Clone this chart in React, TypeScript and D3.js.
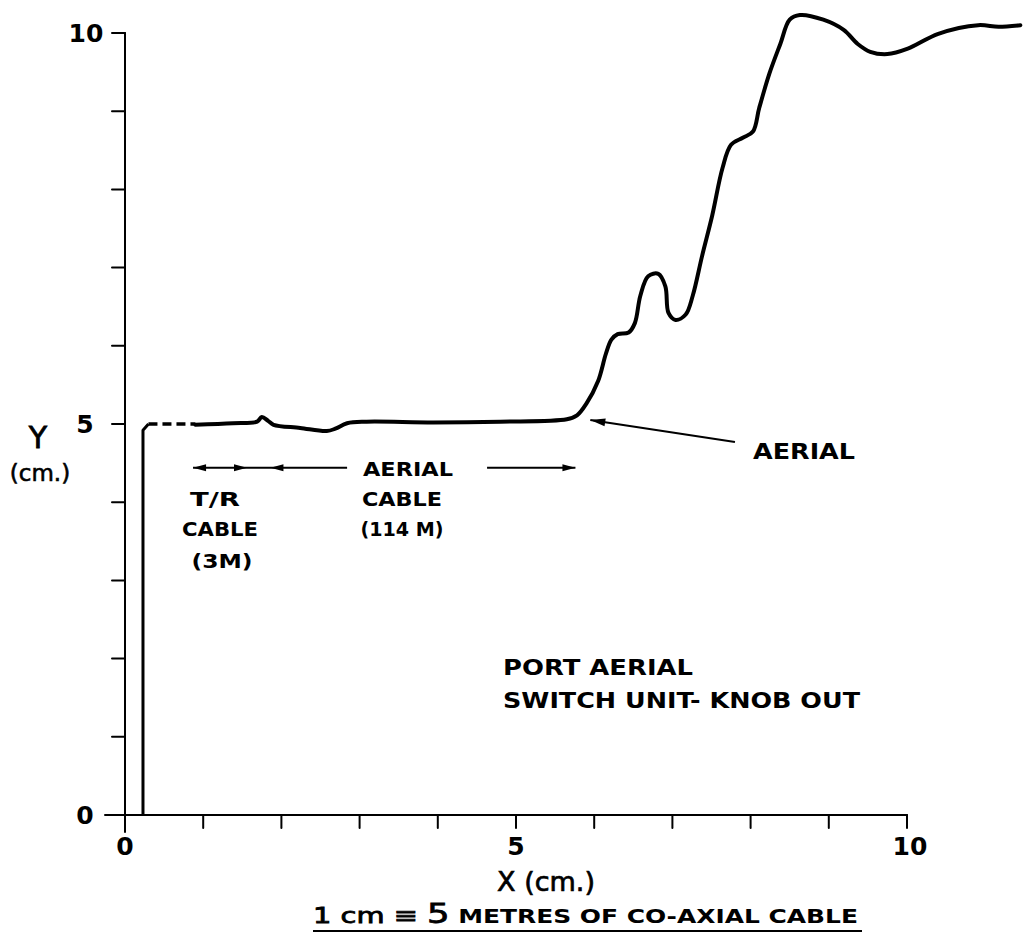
import React from 'react';
import * as d3 from 'd3';

// axis ticks (cm)
const xTicks = [0, 1, 2, 3, 4, 5, 6, 7, 8, 9, 10];
const yTicks = [0, 1, 2, 3, 4, 5, 6, 7, 8, 9, 10];
const xTickLabels = ['0', '5', '10'];
const yTickLabels = ['0', '5', '10'];

// vertical step at the start of the trace
const stepX = [0.23, 0.23, 0.3];
const stepY = [0, 4.92, 5.0];

// dashed lead-in
const leadX = [0.3, 0.9];
const leadY = [5.0, 5.0];

// the reflection trace
const traceX = [
  0.9, 1.38, 1.69, 1.75, 1.83, 1.9, 2.24, 2.58, 2.69, 2.84, 3.09, 3.94, 4.8, 5.65, 5.78,
  5.9, 6.05, 6.15, 6.22, 6.3, 6.44, 6.52, 6.59, 6.69, 6.82, 6.91, 6.95, 7.04, 7.17, 7.26,
  7.38, 7.51, 7.64, 7.75, 7.9, 8.03, 8.11, 8.24, 8.38, 8.5, 8.63, 8.93, 9.19, 9.37, 9.53,
  9.75, 10.01, 10.4, 10.91, 11.17, 11.45,
];
const traceY = [
  4.99, 5.01, 5.03, 5.09, 5.04, 4.99, 4.95, 4.91, 4.94, 5.01, 5.03, 5.02, 5.03, 5.06, 5.11,
  5.26, 5.55, 5.9, 6.08, 6.15, 6.17, 6.29, 6.64, 6.89, 6.92, 6.76, 6.42, 6.33, 6.4, 6.64,
  7.15, 7.67, 8.27, 8.57, 8.66, 8.74, 9.04, 9.48, 9.86, 10.17, 10.23, 10.17, 10.04, 9.86, 9.76,
  9.73, 9.8, 9.99, 10.1, 10.08, 10.1,
];

// cable-length arrows (cm)
const cableArrowY = 4.44;
const trArrowX = [0.87, 1.56];
const aerialCableArrowX = [1.86, 2.84];
const aerialCableArrowX2 = [4.63, 5.76];

// pointer to the aerial
const pointerX = [7.8, 5.95];
const pointerY = [4.77, 5.05];

const FONT = '"DejaVu Sans", sans-serif';

const W = 1035;
const H = 946;

function head(px: number, py: number, angle: number, len = 13, half = 3.5) {
  const c = Math.cos(angle), s = Math.sin(angle);
  const bx = px - c * len, by = py - s * len;
  return `M${px},${py}L${bx - s * half},${by + c * half}L${bx + s * half},${by - c * half}Z`;
}

export default function App() {
  const x = d3.scaleLinear().domain([0, 10]).range([125, 907]);
  const y = d3.scaleLinear().domain([0, 10]).range([815, 33]);

  const toPts = (xs: number[], ys: number[]) => xs.map((v, i) => [v, ys[i]] as [number, number]);
  const straight = d3.line<[number, number]>().x(d => x(d[0])).y(d => y(d[1]));
  const smooth = d3.line<[number, number]>().x(d => x(d[0])).y(d => y(d[1])).curve(d3.curveCatmullRom.alpha(0.5));

  const ay = y(cableArrowY);
  const px0 = x(pointerX[0]), py0 = y(pointerY[0]);
  const px1 = x(pointerX[1]), py1 = y(pointerY[1]);
  const pAngle = Math.atan2(py1 - py0, px1 - px0);

  const bold = { fontFamily: FONT, fontWeight: 700 as const, fill: '#000' };

  return (
    <svg width={W} height={H} style={{ position: 'absolute', left: 0, top: 0, background: '#fff' }}>
      <rect width={W} height={H} fill="#fff" />

      {/* axes */}
      <g stroke="#000" strokeWidth={2} fill="none" strokeLinecap="round">
        <line x1={x(0)} x2={x(0)} y1={y(10)} y2={y(0) + 17} />
        <line x1={x(0) - 20} x2={x(10)} y1={y(0)} y2={y(0)} />
        {yTicks.filter(t => t > 0).map(t => (
          <line key={'yt' + t} x1={x(0) - 13} x2={x(0)} y1={y(t)} y2={y(t)} />
        ))}
        {xTicks.filter(t => t > 0).map(t => (
          <line key={'xt' + t} x1={x(t)} x2={x(t)} y1={y(0)} y2={y(0) + 13} />
        ))}
      </g>

      {/* tick labels */}
      <g {...bold} fontSize={25} textAnchor="middle" dominantBaseline="central">
        {yTickLabels.map(t => (
          <text key={'yl' + t} x={t === '10' ? 86 : 85} y={y(+t)}>{t}</text>
        ))}
        {xTickLabels.map(t => (
          <text key={'xl' + t} x={x(+t) + (t === '10' ? 3 : 0)} y={y(0) + 31}>{t}</text>
        ))}
      </g>

      {/* axis titles */}
      <text x={38} y={448} fontFamily={FONT} fontSize={30} textAnchor="middle" stroke="#000" strokeWidth={0.8}>Y</text>
      <text x={40} y={481} fontFamily={FONT} fontSize={23} textAnchor="middle" stroke="#000" strokeWidth={0.6}>(cm.)</text>
      <text x={546} y={891} fontFamily={FONT} fontSize={27} textAnchor="middle" stroke="#000" strokeWidth={0.7}>X (cm.)</text>

      {/* trace */}
      <path d={straight(toPts(stepX, stepY)) || ''} fill="none" stroke="#000" strokeWidth={3} strokeLinejoin="round" />
      <path d={straight(toPts(leadX, leadY)) || ''} fill="none" stroke="#000" strokeWidth={3.5} strokeDasharray="9 5" />
      <path d={smooth(toPts(traceX, traceY)) || ''} fill="none" stroke="#000" strokeWidth={4} strokeLinejoin="round" strokeLinecap="round" />

      {/* cable length arrows */}
      <g stroke="#000" strokeWidth={2} fill="none">
        <line x1={x(trArrowX[0])} x2={x(aerialCableArrowX[1])} y1={ay} y2={ay} />
        <line x1={x(aerialCableArrowX2[0])} x2={x(aerialCableArrowX2[1])} y1={ay} y2={ay} />
      </g>
      <g fill="#000">
        <path d={head(x(trArrowX[0]), ay, Math.PI)} />
        <path d={head(x(trArrowX[1]), ay, 0)} />
        <path d={head(x(aerialCableArrowX[0]), ay, Math.PI)} />
        <path d={head(x(aerialCableArrowX2[1]), ay, 0)} />
      </g>

      {/* pointer to aerial */}
      <line x1={px0} y1={py0} x2={px1} y2={py1} stroke="#000" strokeWidth={2} />
      <path d={head(px1, py1, pAngle, 15, 4)} fill="#000" />

      {/* annotations */}
      <g {...bold} fontSize={20} textAnchor="middle">
        <text x={215} y={506} textLength={50} lengthAdjust="spacingAndGlyphs">T/R</text>
        <text x={220} y={536} textLength={76} lengthAdjust="spacingAndGlyphs">CABLE</text>
        <text x={222} y={568} textLength={61} lengthAdjust="spacingAndGlyphs">(3M)</text>
        <text x={408} y={476} textLength={90} lengthAdjust="spacingAndGlyphs">AERIAL</text>
        <text x={402} y={506} textLength={80} lengthAdjust="spacingAndGlyphs">CABLE</text>
        <text x={402} y={536} textLength={83} lengthAdjust="spacingAndGlyphs">(114 M)</text>
      </g>
      <text {...bold} fontSize={22} x={753} y={459} textLength={102} lengthAdjust="spacingAndGlyphs">AERIAL</text>
      <text {...bold} fontSize={22} x={503} y={675} textLength={190} lengthAdjust="spacingAndGlyphs">PORT AERIAL</text>
      <text {...bold} fontSize={22} x={503} y={708} textLength={357} lengthAdjust="spacingAndGlyphs">SWITCH UNIT- KNOB OUT</text>

      {/* caption */}
      <text {...bold} x={313} y={923} textLength={545} lengthAdjust="spacingAndGlyphs">
        <tspan fontSize={22} fontWeight={400} stroke="#000" strokeWidth={0.8}>1 cm ≡ </tspan>
        <tspan fontSize={27} fontWeight={400} stroke="#000" strokeWidth={0.8}>5</tspan>
        <tspan fontSize={19}> METRES OF CO-AXIAL CABLE</tspan>
      </text>
      <line x1={313} x2={862} y1={931} y2={931} stroke="#000" strokeWidth={2} />
    </svg>
  );
}
